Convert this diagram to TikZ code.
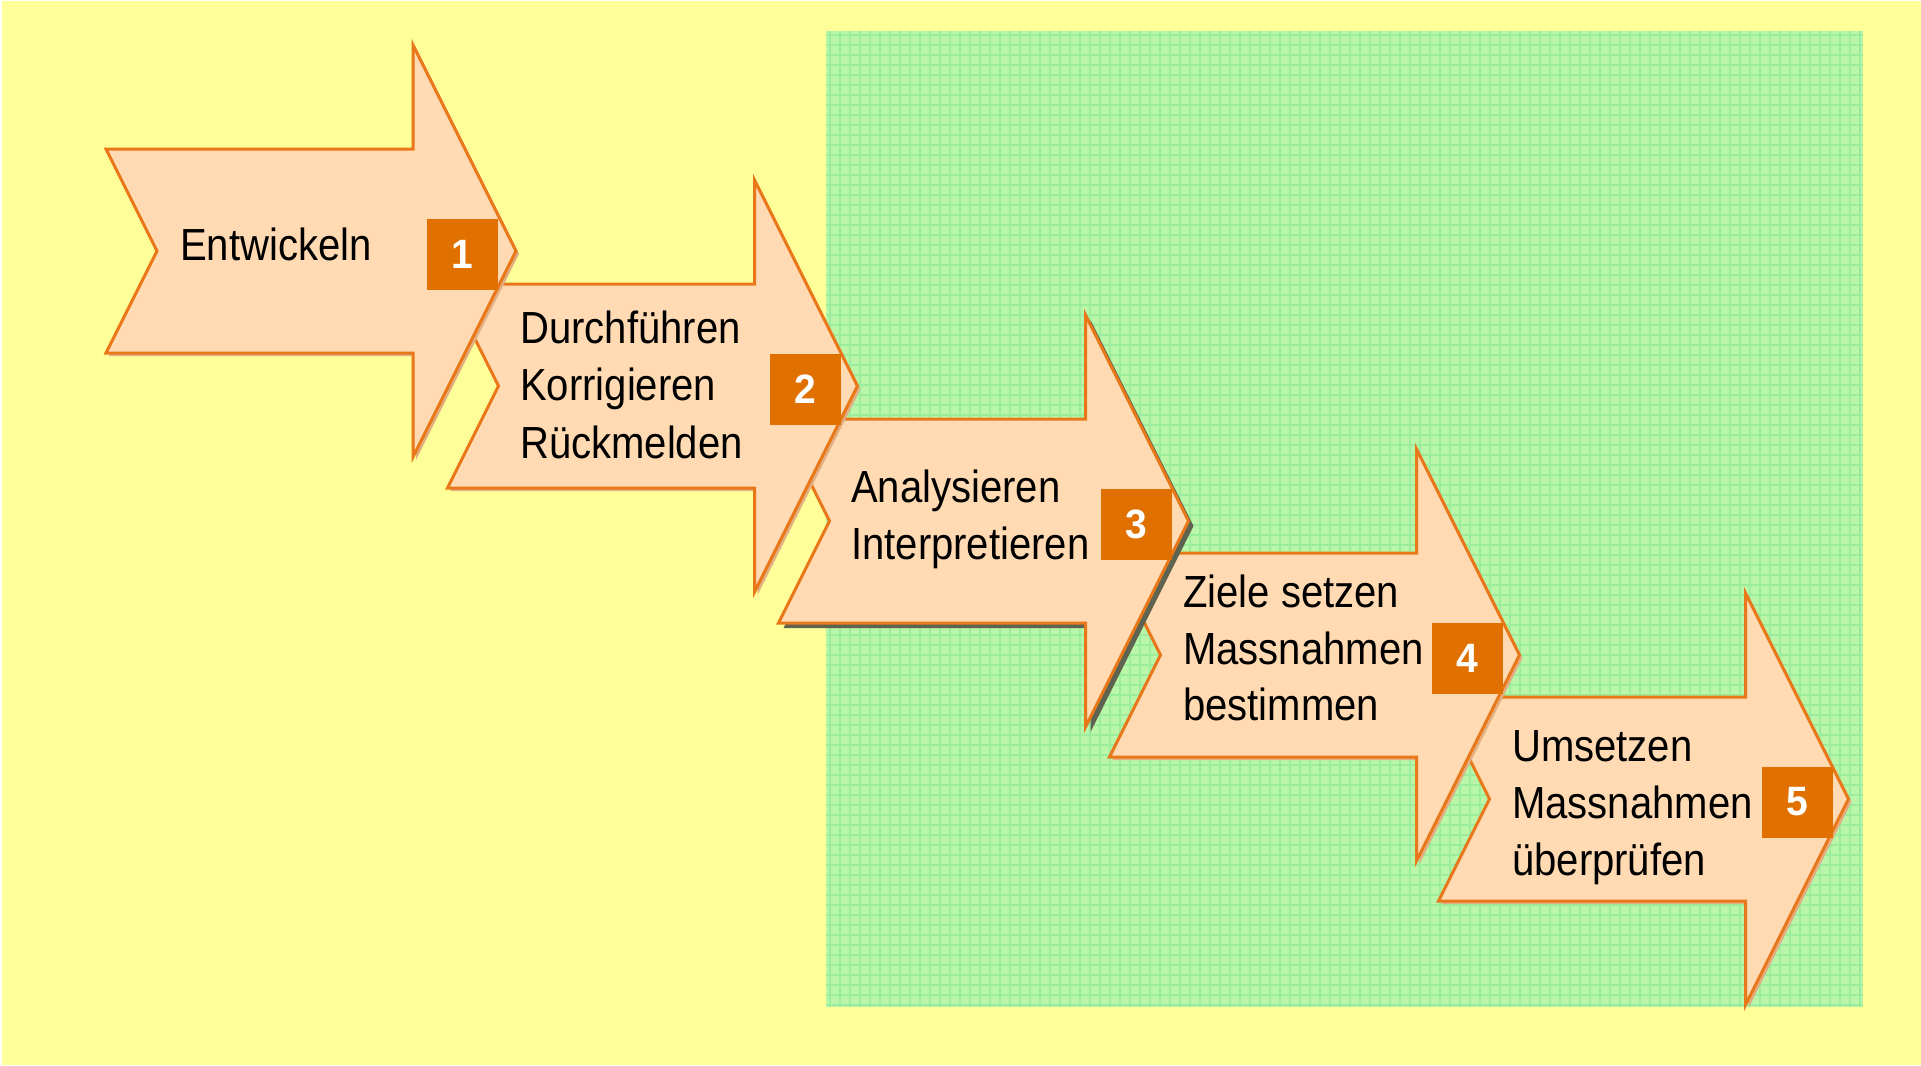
\documentclass[tikz,border=0pt]{standalone}
\usepackage{fontspec}
\setmainfont{Liberation Sans}
\newfontfamily\narrowsans{Liberation Sans}[FakeStretch=0.89]
\newfontfamily\digitsans{Liberation Sans}[FakeStretch=0.95]
\definecolor{bgyellow}{HTML}{FFFF99}
\definecolor{gridgreen}{HTML}{BAF6A8}
\definecolor{gridline}{HTML}{9CEC9E}
\definecolor{peach}{HTML}{FFDAB2}
\definecolor{arrowline}{HTML}{E8781A}
\definecolor{badgeorange}{HTML}{E07000}
\definecolor{shadowsoft}{HTML}{E2AE82}
\definecolor{shadowdark}{HTML}{5E6450}
\newcommand\lblfont{\narrowsans\fontsize{45}{57}\selectfont}
\newcommand\bdgfont{\digitsans\bfseries\fontsize{41}{48}\selectfont}
\begin{document}
\begin{tikzpicture}[x=1pt,y=-1pt,
  arrowshape/.style={fill=peach, draw=arrowline, line width=3pt, line join=miter},
  badgebox/.style={fill=badgeorange, minimum width=71pt, minimum height=71pt, inner sep=0pt, text=white, font=\bdgfont},
  steptext/.style={anchor=base west, inner sep=0pt, font=\lblfont, text=black}]
\useasboundingbox (0,0) rectangle (1921,1065);
\fill[white] (0,0) rectangle (1921,1065);
\fill[bgyellow] (2,1) rectangle (1921,1065);
% green gridded field
\fill[gridgreen] (826,31) rectangle (1863,1007);
\foreach \gx in {830,840,...,1860} \draw[gridline, line width=1.2pt] (\gx,31) -- (\gx,1007);
\foreach \gy in {35,45,...,1005} \draw[gridline, line width=1.2pt] (826,\gy) -- (1863,\gy);
% arrows, drawn from last to first so each earlier arrow lies on top
\foreach \L/\C/\shcol/\off in {1438.5/799/shadowsoft/3, 1109.5/655/shadowsoft/3, 778.5/521/shadowdark/5, 447.5/386/shadowsoft/3, 106/251/shadowsoft/3} {
  \begin{scope}[shift={(\L,\C)}]
    \fill[\shcol, shift={(\off,\off)}] (0,-102) -- (307,-102) -- (307,-206) -- (410,0) -- (307,206) -- (307,102) -- (0,102) -- (51,0) -- cycle;
    \filldraw[arrowshape] (0,-102) -- (307,-102) -- (307,-206) -- (410,0) -- (307,206) -- (307,102) -- (0,102) -- (51,0) -- cycle;
  \end{scope}
}
% number badges
\node[badgebox] (b1) at (462,254) {1};
\node[badgebox] (b2) at (805,389) {2};
\node[badgebox] (b3) at (1136,524) {3};
\node[badgebox] (b4) at (1467,658) {4};
\node[badgebox] (b5) at (1797,802) {5};
% texts
\node[steptext] (t1) at (180,260) {Entwickeln};
\node[steptext] (t2a) at (520,343) {Durchführen};
\node[steptext] (t2b) at (520,400) {Korrigieren};
\node[steptext] (t2c) at (520,458) {Rückmelden};
\node[steptext] (t3a) at (851,502) {Analysieren};
\node[steptext] (t3b) at (851,559) {Interpretieren};
\node[steptext] (t4a) at (1183,607) {Ziele setzen};
\node[steptext] (t4b) at (1183,664) {Massnahmen};
\node[steptext] (t4c) at (1183,720) {bestimmen};
\node[steptext] (t5a) at (1512,761) {Umsetzen};
\node[steptext] (t5b) at (1512,818) {Massnahmen};
\node[steptext] (t5c) at (1512,875) {überprüfen};
\end{tikzpicture}
\end{document}
